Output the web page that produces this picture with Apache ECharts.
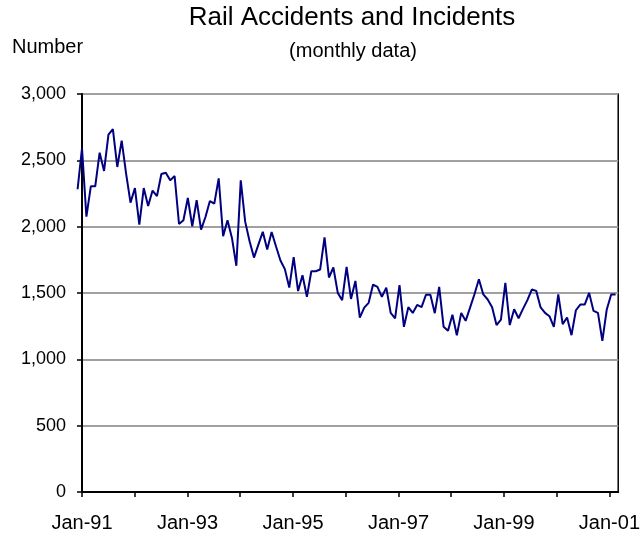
<!DOCTYPE html>
<html>
<head>
<meta charset="utf-8">
<script src="https://cdn.jsdelivr.net/npm/echarts@6/dist/echarts.min.js"></script>
<style>
html,body{margin:0;padding:0;background:#fff;}
#chart{width:643px;height:537px;}
</style>
</head>
<body>
<div id="chart"></div>
<script>
// Monthly values, Dec-90 (month -1) through Feb-01 (month 121); month 0 = Jan-91
var firstMonth = -1;
var values = [
  2282, 2590, 2075, 2304, 2304, 2558, 2420, 2693, 2735, 2450, 2648, 2400,
  2181, 2291, 2016, 2291, 2156, 2272, 2231, 2397, 2407, 2349, 2382, 2020,
  2048, 2216, 2003, 2199, 1978, 2073, 2193, 2174, 2364, 1928, 2048, 1915,
  1705, 2349, 2038, 1890, 1767, 1865, 1962, 1828, 1960, 1850, 1745, 1680,
  1541, 1770, 1515, 1634, 1471, 1664, 1664, 1677, 1920, 1617, 1692, 1501,
  1446, 1697, 1455, 1591, 1315, 1390, 1426, 1564, 1546, 1471, 1541, 1350,
  1308, 1559, 1245, 1393, 1350, 1410, 1393, 1487, 1487, 1348, 1546, 1245,
  1215, 1336, 1182, 1350, 1290, 1390, 1491, 1603, 1489, 1451, 1393, 1258,
  1300, 1576, 1258, 1377, 1310, 1380, 1446, 1526, 1516, 1391, 1350, 1325,
  1245, 1489, 1265, 1315, 1182, 1370, 1413, 1413, 1501, 1365, 1350, 1139,
  1376, 1489, 1489
];
var tickMonths = [0, 12, 24, 36, 48, 60, 72, 84, 96, 108, 120];
var labelMonths = [0, 24, 48, 72, 96, 120];
var labelTexts = ['Jan-91', 'Jan-93', 'Jan-95', 'Jan-97', 'Jan-99', 'Jan-01'];

var seriesData = values.map(function (v, i) { return [firstMonth + i, v]; });

// layout
var W = 643, gLeft = 82, gRight = 23, gTop = 94, gBottom = 45;
var xMin = 0, xMax = 122;
var pxPerMonth = (W - gLeft - gRight) / (xMax - xMin);
var gLeft2 = gLeft - (xMin - firstMonth) * pxPerMonth; // wider grid so the first point may sit left of the axis

var chart = echarts.init(document.getElementById('chart'), null, {renderer: 'canvas'});
var font = 'Liberation Sans, Arial, sans-serif';
chart.setOption({
  animation: false,
  backgroundColor: '#fff',
  title: [
    {text: 'Rail Accidents and Incidents', left: 352, top: 5, padding: 0, textAlign: 'center',
     textStyle: {fontFamily: font, fontSize: 26, fontWeight: 'normal', color: '#000'}},
    {text: '(monthly data)', left: 353, top: 41, padding: 0, textAlign: 'center',
     textStyle: {fontFamily: font, fontSize: 20, fontWeight: 'normal', color: '#000'}},
    {text: 'Number', left: 12, top: 37, padding: 0,
     textStyle: {fontFamily: font, fontSize: 20, fontWeight: 'normal', color: '#000'}}
  ],
  grid: [
    {left: gLeft, right: gRight, top: gTop, bottom: gBottom, show: true,
     borderColor: '#000', borderWidth: 1.5, backgroundColor: 'transparent'},
    {left: gLeft2, right: gRight, top: gTop, bottom: gBottom, show: false}
  ],
  xAxis: [{
    gridIndex: 0, type: 'value', min: xMin, max: xMax,
    axisLine: {show: true, lineStyle: {color: '#000', width: 2}},
    axisTick: {show: true, customValues: tickMonths, length: 5, lineStyle: {color: '#000', width: 1.5}},
    axisLabel: {customValues: labelMonths, margin: 21, fontFamily: font, fontSize: 20, color: '#000',
      formatter: function (v) { var i = labelMonths.indexOf(v); return i >= 0 ? labelTexts[i] : ''; }},
    splitLine: {show: false}
  }, {
    gridIndex: 1, type: 'value', min: firstMonth, max: xMax, show: false
  }],
  yAxis: [{
    gridIndex: 0, type: 'value', min: 0, max: 3000, interval: 500,
    axisLine: {show: true, lineStyle: {color: '#000', width: 2}},
    axisTick: {show: true, length: 5, lineStyle: {color: '#000', width: 1.5}},
    axisLabel: {margin: 16, fontFamily: font, fontSize: 18, color: '#000',
      formatter: function (v) { return v.toLocaleString('en-US'); }},
    splitLine: {show: true, lineStyle: {color: '#a0a0a0', width: 2}}
  }, {
    gridIndex: 1, type: 'value', min: 0, max: 3000, interval: 500, show: false, splitLine: {show: false}
  }],
  series: [{
    type: 'line', xAxisIndex: 1, yAxisIndex: 1, data: seriesData, showSymbol: false, clip: false,
    lineStyle: {color: '#000080', width: 2}, itemStyle: {color: '#000080'}
  }]
});
</script>
</body>
</html>
